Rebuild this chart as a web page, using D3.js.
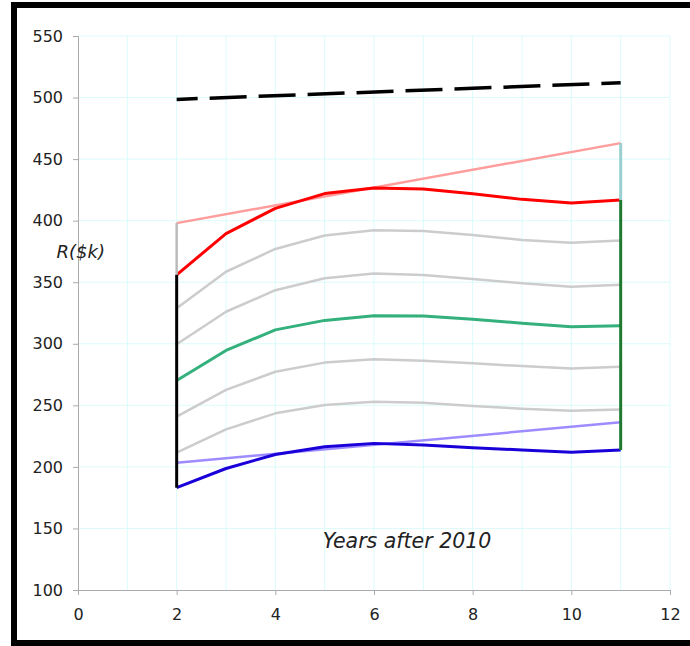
<!DOCTYPE html>
<html>
<head>
<meta charset="utf-8">
<script src="https://cdn.jsdelivr.net/npm/d3@7"></script>
<style>
html,body{margin:0;padding:0;background:#fff;}
svg{display:block;}
text{font-family:"DejaVu Sans",Verdana,sans-serif;fill:#222;}
</style>
</head>
<body>
<svg id="chart" width="690" height="646"></svg>
<script>
// ---- data ----
const years = [2, 3, 4, 5, 6, 7, 8, 9, 10, 11];
const redSeries   = [356.0, 389.5, 410.0, 422.0, 426.5, 425.7, 421.8, 417.3, 414.3, 416.8];
const gray1Series = [328.8, 358.5, 377.0, 388.0, 392.3, 391.6, 388.4, 384.3, 382.1, 383.8];
const gray2Series = [299.6, 326.0, 343.5, 353.2, 357.0, 355.9, 352.6, 349.1, 346.4, 348.0];
const greenSeries = [270.2, 294.6, 311.3, 319.0, 322.7, 322.5, 319.9, 316.7, 313.9, 314.7];
const gray3Series = [240.8, 262.5, 277.3, 284.7, 287.4, 286.3, 284.1, 281.9, 280.0, 281.4];
const gray4Series = [211.6, 230.5, 243.5, 250.3, 253.0, 252.1, 249.4, 247.2, 245.6, 246.7];
const blueSeries  = [183.1, 198.7, 210.1, 216.4, 219.1, 217.8, 215.6, 213.7, 211.8, 213.7];
const endYears = [2, 11];
const pinkSeries = [398.0, 463.0];
const lavenderSeries = [203.4, 236.2];
const dashedSeries = [498.5, 512.0];
const xTicks = [0, 2, 4, 6, 8, 10, 12];
const yTicks = [100, 150, 200, 250, 300, 350, 400, 450, 500, 550];
const xLabel = "Years after 2010";
const yLabel = "R($k)";

// ---- layout ----
const svg = d3.select("#chart");
const x = d3.scaleLinear().domain([0, 12]).range([78, 670]);
const y = d3.scaleLinear().domain([100, 550]).range([590, 36]);

// frame
svg.append("rect").attr("x", 14).attr("y", 5).attr("width", 720).attr("height", 638)
  .attr("fill", "#fff").attr("stroke", "#000").attr("stroke-width", 6);

// gridlines
const grid = svg.append("g").attr("stroke", "#dcfafa").attr("stroke-width", 1);
d3.range(1, 13).forEach(v => {
  grid.append("line").attr("x1", x(v)).attr("x2", x(v)).attr("y1", y(100)).attr("y2", y(550));
});
yTicks.slice(1).forEach(v => {
  grid.append("line").attr("x1", x(0)).attr("x2", x(12)).attr("y1", y(v)).attr("y2", y(v));
});

// axes
const xAxis = svg.append("g").attr("transform", `translate(0,${y(100)})`)
  .call(d3.axisBottom(x).tickValues(xTicks).tickSize(5).tickPadding(14));
const yAxis = svg.append("g").attr("transform", `translate(${x(0)},0)`)
  .call(d3.axisLeft(y).tickValues(yTicks).tickSize(5).tickPadding(10));
[xAxis, yAxis].forEach(a => {
  a.selectAll("path").attr("stroke", "#aaa");
  a.selectAll("line").attr("stroke", "#aaa");
  a.selectAll("text").style("font-family", '"DejaVu Sans",Verdana,sans-serif')
    .style("font-size", "16px").attr("fill", "#222");
});

// lines
const line = d3.line().x(d => x(d[0])).y(d => y(d[1]));
function draw(xs, ys, color, width, dash, offset) {
  const p = svg.append("path").datum(xs.map((v, i) => [v, ys[i]]))
    .attr("d", line).attr("fill", "none").attr("stroke", color)
    .attr("stroke-width", width).attr("stroke-linejoin", "round");
  if (dash) p.attr("stroke-dasharray", dash).attr("stroke-dashoffset", offset || 0);
  return p;
}
draw(endYears, dashedSeries, "#000", 3.5, "37,12", 16);
draw(endYears, pinkSeries, "#ff9c9c", 2.5);
draw(endYears, lavenderSeries, "#9d8cff", 2.5);
draw(years, gray1Series, "#cccccc", 2.5);
draw(years, gray2Series, "#cccccc", 2.5);
draw(years, gray3Series, "#cccccc", 2.5);
draw(years, gray4Series, "#cccccc", 2.5);
draw(years, greenSeries, "#33b07c", 3);
draw(years, redSeries, "#ff0000", 3);
draw(years, blueSeries, "#1a00d8", 3);

// vertical connectors
const first = 0, last = years.length - 1;
draw([2, 2], [pinkSeries[0], redSeries[first]], "#bbbbbb", 2.5);
draw([2, 2], [redSeries[first], blueSeries[first]], "#000", 3);
draw([11, 11], [pinkSeries[1], redSeries[last]], "#99cfcf", 3);
draw([11, 11], [redSeries[last], blueSeries[last]], "#1f7a30", 3);

// labels
svg.append("text").attr("x", 105).attr("y", 258).attr("text-anchor", "end")
  .style("font-size", "18px").style("font-style", "italic").text(yLabel);
svg.append("text").attr("x", 407).attr("y", 548).attr("text-anchor", "middle")
  .style("font-size", "20.5px").style("font-style", "italic").text(xLabel);
</script>
</body>
</html>
